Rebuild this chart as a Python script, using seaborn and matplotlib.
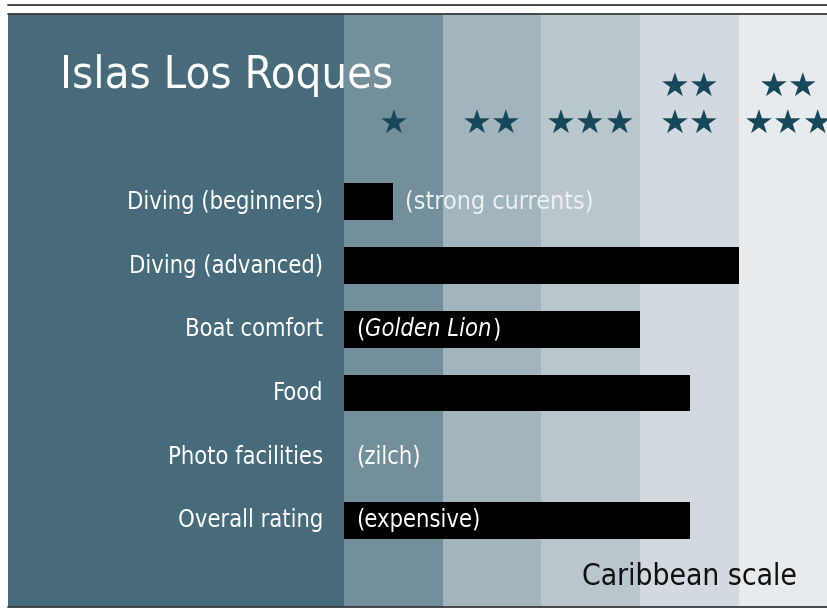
import matplotlib
matplotlib.use("Agg")
import matplotlib.pyplot as plt
import seaborn as sns
import pandas as pd
from matplotlib.lines import Line2D

# ---- data ----
categories = ["Diving (beginners)", "Diving (advanced)", "Boat comfort",
              "Food", "Photo facilities", "Overall rating"]
ratings = [0.5, 4.0, 3.0, 3.5, 0.0, 3.5]
notes = ["(strong currents)", "", "(Golden Lion)", "", "(zilch)", "(expensive)"]
star_levels = [1, 2, 3, 4, 5]
star_rows = [["", "★"], ["", "★★"], ["", "★★★"], ["★★", "★★"], ["★★", "★★★"]]
band_colors = ["#728f9b", "#a3b5bc", "#b9c7cd", "#d2dae0", "#e7ebee"]
title = "Islas Los Roques"
scale_label = "Caribbean scale"

df = pd.DataFrame({"category": categories, "rating": ratings})

sns.set_theme(style="white")
plt.rcParams["font.family"] = ["DejaVu Sans"]
plt.rcParams["font.stretch"] = "condensed"
ST = "condensed"

W, H = 828, 609
fig = plt.figure(figsize=(W / 100, H / 100), dpi=100)
fig.patch.set_facecolor("white")
ax = fig.add_axes([8 / W, (H - 607) / H, (828 - 8) / W, (607 - 14) / H])
ax.set_facecolor("#476b7a")

for i, c in enumerate(band_colors):
    ax.axvspan(i, i + 1, color=c, lw=0, zorder=0)

sns.barplot(data=df, x="rating", y="category", orient="h", color="black",
            width=0.58, saturation=1, ax=ax, zorder=2, edgecolor="none")

ax.set_xlim(-3.4, 4.9)
ax.set_ylim(6.36, -2.95)
ax.set_xlabel("")
ax.set_ylabel("")
ax.set_xticks([])
ax.set_yticks([])
for s in ax.spines.values():
    s.set_visible(False)

# category labels
for i, cat in enumerate(categories):
    ax.text(-0.21, i, cat, ha="right", va="center", color="white", fontsize=17,
            fontstretch=ST, zorder=3)

# notes
for i, (note, val) in enumerate(zip(notes, ratings)):
    if not note:
        continue
    if i == 0:
        x0 = val + 0.12
        col = "#eef2f4"
        fs = 18
    else:
        x0 = 0.12
        col = "white"
        fs = 17
    if note == "(Golden Lion)":
        parts = [("(", "normal"), ("Golden Lion", "italic"), (")", "normal")]
        t = ax.text(x0, i, parts[0][0], ha="left", va="center", color=col,
                    fontsize=fs, style=parts[0][1], fontstretch=ST, zorder=3)
        for txt, st in parts[1:]:
            t = ax.annotate(txt, xy=(1, 0.5), xycoords=t, xytext=(0.5, 0),
                            textcoords="offset points", ha="left", va="center",
                            color=col, fontsize=fs, style=st, fontstretch=ST, zorder=3)
    else:
        ax.text(x0, i, note, ha="left", va="center", color=col, fontsize=fs,
                fontstretch=ST, zorder=3)

# stars
for lvl, rows in zip(star_levels, star_rows):
    xc = lvl - 0.5
    ax.text(xc, -1.80, rows[0], ha="center", va="center", color="#17475a",
            fontsize=24, fontstretch="normal", zorder=3, clip_on=True)
    ax.text(xc, -1.21, rows[1], ha="center", va="center", color="#17475a",
            fontsize=24, fontstretch="normal", zorder=3, clip_on=True)

# title and scale label
ax.text(-2.87, -1.98, title, ha="left", va="center", color="white", fontsize=32.5,
        fontstretch=ST, zorder=3)
ax.text(4.59, 5.88, scale_label, ha="right", va="center", color="#111111",
        fontsize=21.5, fontstretch=ST, zorder=3)

# rules
for y in (H - 4.5, H - 13.5, H - 607):
    fig.add_artist(Line2D([8 / W, 1], [y / H, y / H], transform=fig.transFigure,
                          color="#3a3a3a", lw=1.3))

fig.savefig("out.png", dpi=100)
